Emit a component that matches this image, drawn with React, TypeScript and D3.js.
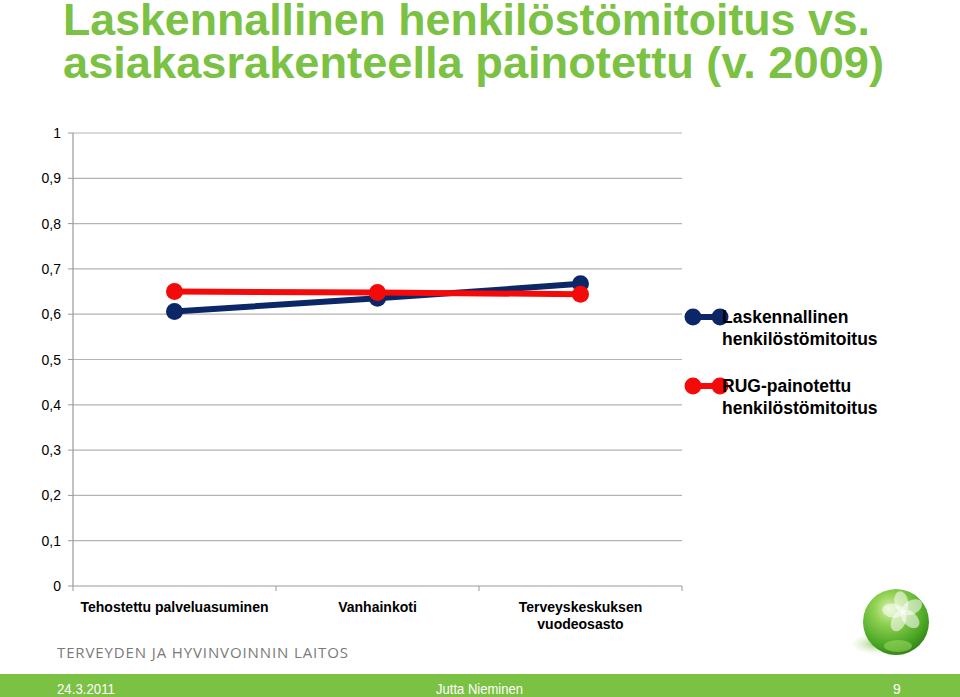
import React from 'react';
import * as d3 from 'd3';

const categories = ['Tehostettu palveluasuminen', 'Vanhainkoti', 'Terveyskeskuksen vuodeosasto'];
const categoryLines = [['Tehostettu palveluasuminen'], ['Vanhainkoti'], ['Terveyskeskuksen', 'vuodeosasto']];
const laskennallinen = [0.606, 0.635, 0.667];
const rugPainotettu = [0.65, 0.648, 0.644];
const seriesNames = [['Laskennallinen', 'henkilöstömitoitus'], ['RUG-painotettu', 'henkilöstömitoitus']];
const yTicks = [0, 0.1, 0.2, 0.3, 0.4, 0.5, 0.6, 0.7, 0.8, 0.9, 1];

const W = 960;
const H = 697;
const GREEN = '#7bc143';
const BLUE = '#0c2767';
const RED = '#f50a0a';

const x = d3.scaleBand<string>().domain(categories).range([73, 682]);
const y = d3.scaleLinear().domain([0, 1]).range([586, 133]);
const fmt = (v: number) => String(Math.round(v * 10) / 10).replace('.', ',');

const series = [
  { values: laskennallinen, color: BLUE },
  { values: rugPainotettu, color: RED },
];

const line = d3
  .line<number>()
  .x((_, i) => (x(categories[i]) as number) + x.bandwidth() / 2)
  .y((d) => y(d));

// the THL ball in the lower right corner
const Logo = () => {
  const cx = 896;
  const cy = 622;
  const r = 33;
  const petals = d3.range(5).map((i) => i * 72);
  return (
    <g>
      <defs>
        <radialGradient id="ball" cx="0.4" cy="0.3" r="0.75">
          <stop offset="0" stopColor="#d8f2b0" />
          <stop offset="0.3" stopColor="#93d255" />
          <stop offset="0.75" stopColor="#4aa623" />
          <stop offset="1" stopColor="#2f7d12" />
        </radialGradient>
        <radialGradient id="shadow" cx="0.5" cy="0.5" r="0.5">
          <stop offset="0" stopColor="#6fb43a" stopOpacity="0.7" />
          <stop offset="1" stopColor="#cfe8b5" stopOpacity="0" />
        </radialGradient>
      </defs>
      <ellipse cx={cx - 20} cy={cy + 22} rx={26} ry={11} fill="url(#shadow)" />
      <circle cx={cx} cy={cy} r={r} fill="url(#ball)" />
      <g transform={`translate(${cx + 7},${cy - 10}) rotate(-10)`}>
        {petals.map((a, i) => (
          <ellipse
            key={i}
            cx={0}
            cy={-10}
            rx={7}
            ry={11}
            fill="#ffffff"
            opacity={0.55}
            transform={`rotate(${a})`}
          />
        ))}
      </g>
      <ellipse cx={cx + 2} cy={cy + 24} rx={14} ry={6} fill="#a6e06a" opacity={0.5} />
    </g>
  );
};

export default function App() {
  return (
    <svg
      width={W}
      height={H}
      style={{ position: 'absolute', left: 0, top: 0, background: '#fff' }}
      fontFamily="Liberation Sans, Arial, sans-serif"
    >
      <rect width={W} height={H} fill="#fff" />

      <text x={63} y={35} fontSize={44} fontWeight="bold" fill={GREEN} textLength={807} lengthAdjust="spacingAndGlyphs">
        Laskennallinen henkilöstömitoitus vs.
      </text>
      <text x={63} y={78} fontSize={44} fontWeight="bold" fill={GREEN} textLength={821} lengthAdjust="spacingAndGlyphs">
        asiakasrakenteella painotettu (v. 2009)
      </text>

      {yTicks.map((t) => (
        <g key={t}>
          {t > 0 && <line x1={73} x2={682} y1={y(t)} y2={y(t)} stroke="#b3b3b3" strokeWidth={1.2} />}
          <line x1={68} x2={73} y1={y(t)} y2={y(t)} stroke="#999" />
          <text x={61} y={y(t) + 5} fontSize={14} textAnchor="end" fill="#000">
            {fmt(t)}
          </text>
        </g>
      ))}
      <line x1={73} x2={73} y1={y(1)} y2={y(0)} stroke="#999" strokeWidth={1.2} />
      <line x1={73} x2={682} y1={y(0)} y2={y(0)} stroke="#999" strokeWidth={1.2} />
      {[...categories.map((c) => x(c) as number), 682].map((v, i) => (
        <line key={i} x1={v} x2={v} y1={y(0)} y2={y(0) + 5} stroke="#999" />
      ))}

      {categoryLines.map((ls, i) => (
        <text
          key={i}
          x={(x(categories[i]) as number) + x.bandwidth() / 2}
          y={612}
          fontSize={14}
          fontWeight="bold"
          textAnchor="middle"
        >
          {ls.map((l, j) => (
            <tspan key={j} x={(x(categories[i]) as number) + x.bandwidth() / 2} dy={j === 0 ? 0 : 17}>
              {l}
            </tspan>
          ))}
        </text>
      ))}

      {series.map((s, si) => (
        <g key={si}>
          <path d={line(s.values) as string} fill="none" stroke={s.color} strokeWidth={6} />
          {s.values.map((v, i) => (
            <circle
              key={i}
              cx={(x(categories[i]) as number) + x.bandwidth() / 2}
              cy={y(v)}
              r={8.5}
              fill={s.color}
            />
          ))}
        </g>
      ))}

      {series.map((s, si) => {
        const ly = 317 + si * 69;
        return (
          <g key={si}>
            <line x1={693} x2={720} y1={ly} y2={ly} stroke={s.color} strokeWidth={6} />
            <circle cx={693} cy={ly} r={8.5} fill={s.color} />
            <circle cx={720} cy={ly} r={8.5} fill={s.color} />
            <text x={722} y={ly + 6} fontSize={17.5} fontWeight="bold" fill="#000">
              {seriesNames[si][0]}
            </text>
            <text x={722} y={ly + 28} fontSize={17.5} fontWeight="bold" fill="#000">
              {seriesNames[si][1]}
            </text>
          </g>
        );
      })}

      <Logo />

      <text
        x={57}
        y={658}
        fontSize={15}
        fontFamily="Open Sans, sans-serif"
        fill="#7a7a7a"
        textLength={291}
        lengthAdjust="spacing"
      >
        TERVEYDEN JA HYVINVOINNIN LAITOS
      </text>

      <rect x={0} y={674} width={W} height={H - 674} fill={GREEN} />
      <text x={57} y={694} fontSize={14} fill="#fff" textLength={58} lengthAdjust="spacingAndGlyphs">
        24.3.2011
      </text>
      <text x={436} y={694} fontSize={14} fill="#fff" textLength={87} lengthAdjust="spacingAndGlyphs">
        Jutta Nieminen
      </text>
      <text x={897} y={694} fontSize={14} fill="#fff" textAnchor="middle">
        9
      </text>
    </svg>
  );
}
